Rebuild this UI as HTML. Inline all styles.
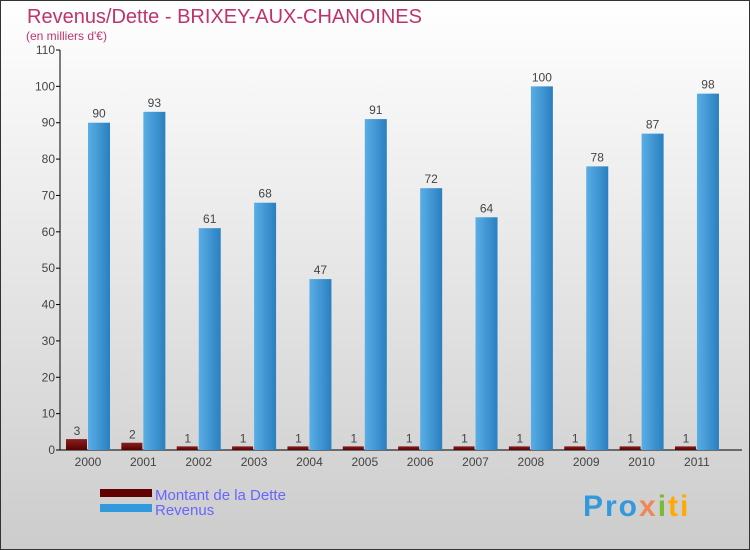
<!DOCTYPE html>
<html><head><meta charset="utf-8"><style>
body{margin:0;}
#c{width:750px;height:550px;position:relative;overflow:hidden;font-family:"Liberation Sans",sans-serif;}
</style></head><body>
<div id="c">
<svg id="s" width="750" height="550" xmlns="http://www.w3.org/2000/svg">
<defs>
<linearGradient id="bg" x1="0" y1="0" x2="0" y2="1"><stop offset="0" stop-color="#ffffff"/><stop offset="1" stop-color="#cccccc"/></linearGradient>
<linearGradient id="gb" x1="0" y1="0" x2="1" y2="0"><stop offset="0" stop-color="#5aaee6"/><stop offset="1" stop-color="#2a7fc0"/></linearGradient>
<linearGradient id="gr" x1="0" y1="0" x2="0" y2="1"><stop offset="0" stop-color="#8a2020"/><stop offset="1" stop-color="#5a0000"/></linearGradient>
</defs>
<rect x="0.5" y="0.5" width="749" height="549" fill="url(#bg)" stroke="#333"/>
<text x="27" y="23" font-size="20" fill="#c0336a">Revenus/Dette - BRIXEY-AUX-CHANOINES</text>
<text x="26" y="40" font-size="12" fill="#c0336a">(en milliers d'€)</text>
<g id="g"></g>
<rect x="100" y="489" width="52" height="8" fill="#600000"/>
<rect x="100" y="504" width="52" height="8" fill="#3399dd"/>
<text x="155" y="500" font-size="15" fill="#6666ff">Montant de la Dette</text>
<text x="155" y="515" font-size="15" fill="#6666ff">Revenus</text>
<text x="583" y="516" font-size="30" font-weight="bold" letter-spacing="2" fill="#3399dd">Pro<tspan fill="#e85">x</tspan><tspan fill="#7b3">i</tspan><tspan fill="#fa0">ti</tspan></text>
</svg>
</div>
<script>
const categories=["2000","2001","2002","2003","2004","2005","2006","2007","2008","2009","2010","2011"];
const dette=[3,2,1,1,1,1,1,1,1,1,1,1];
const revenus=[90,93,61,68,47,91,72,64,100,78,87,98];
const yTicks=[0,10,20,30,40,50,60,70,80,90,100,110];
const NS="http://www.w3.org/2000/svg";
const g=document.getElementById('g');
const y0=450,yTop=50,yMax=110,x0=60,step=55.36,first=88;
const yS=v=>y0-(y0-yTop)*v/yMax;
const xC=i=>first+i*step;
function mk(t,a){const e=document.createElementNS(NS,t);for(const k in a)e.setAttribute(k,a[k]);g.appendChild(e);return e;}
let ax=mk('line',{x1:x0,y1:yTop,x2:x0,y2:y0,stroke:'#000'});


let bx=mk('line',{x1:x0-4,y1:y0,x2:742,y2:y0,stroke:'#000'});


yTicks.forEach(v=>{
 const tk=mk('line',{x1:x0-4,y1:yS(v),x2:x0,y2:yS(v),stroke:'#000'});
 
 
 const t=mk('text',{x:x0-5,y:yS(v)+4,'font-size':12,fill:'#444','text-anchor':'end'});
 t.textContent=v;
 
 
});
categories.forEach((c,i)=>{
 const cx=xC(i);
 const t=mk('text',{x:cx,y:y0+16,'font-size':12,fill:'#444','text-anchor':'middle'});
 t.textContent=c;
 
 
 const r1=mk('rect',{x:cx-22,y:yS(dette[i]),width:21,height:y0-yS(dette[i]),fill:'url(#gr)'});
 
 
 const l1=mk('text',{x:cx-11,y:yS(dette[i])-4,'font-size':12,fill:'#444','text-anchor':'middle'});
 l1.textContent=dette[i];
 
 
 const r2=mk('rect',{x:cx,y:yS(revenus[i]),width:22,height:y0-yS(revenus[i]),fill:'url(#gb)'});
 
 
 const l2=mk('text',{x:cx+11,y:yS(revenus[i])-5,'font-size':12,fill:'#444','text-anchor':'middle'});
 l2.textContent=revenus[i];
 
 
});
</script>
</body></html>
